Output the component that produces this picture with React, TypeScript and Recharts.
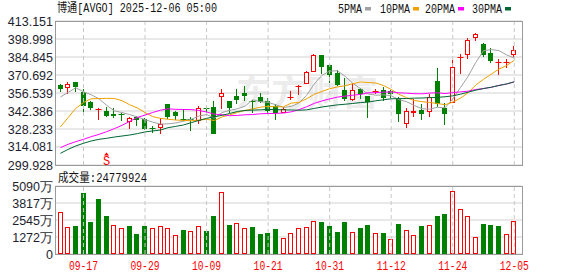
import React from 'react';
import {
  ComposedChart,
  Bar,
  Line,
  XAxis,
  YAxis,
  CartesianGrid,
  ReferenceLine,
  ReferenceDot,
  Legend,
} from 'recharts';

const DATES = [
  '09-12', '09-15', '09-16', '09-17', '09-18', '09-19', '09-22', '09-23', '09-24', '09-25',
  '09-26', '09-29', '09-30', '10-01', '10-02', '10-03', '10-06', '10-07', '10-08', '10-09',
  '10-10', '10-13', '10-14', '10-15', '10-16', '10-17', '10-20', '10-21', '10-22', '10-23',
  '10-24', '10-27', '10-28', '10-29', '10-30', '10-31', '11-03', '11-04', '11-05', '11-06',
  '11-07', '11-10', '11-11', '11-12', '11-13', '11-14', '11-17', '11-18', '11-19', '11-20',
  '11-21', '11-24', '11-25', '11-26', '11-28', '12-01', '12-02', '12-03', '12-04', '12-05',
];

const OPEN = [
  362.6, 360.2, 365.2, 357.3, 349.5, 343.6, 342.4, 340.3, 340.3, 334.0,
  337.4, 335.8, 329.3, 328.8, 347.6, 341.9, 335.8, 336.4, 334.5, 344.5,
  345.5, 353.4, 350.3, 354.2, 356.8, 350.0, 353.4, 350.3, 346.3, 341.1,
  352.6, 361.5, 363.4, 373.3, 386.2, 378.5, 372.5, 358.9, 351.0, 359.9,
  354.2, 357.9, 358.9, 358.1, 351.6, 331.9, 340.6, 343.2, 341.6, 366.0,
  344.5, 348.4, 384.3, 386.2, 400.0, 394.8, 388.2, 380.4, 380.4, 386.4,
];
const HIGH = [
  363.9, 365.2, 365.5, 359.9, 350.2, 345.0, 345.5, 344.5, 340.5, 337.7,
  338.7, 337.1, 330.6, 337.1, 348.0, 342.4, 343.7, 337.7, 346.3, 346.3,
  350.3, 359.4, 350.6, 359.4, 362.0, 350.8, 356.8, 352.9, 347.6, 345.5,
  358.1, 362.8, 373.8, 386.9, 386.5, 379.6, 374.4, 368.1, 364.7, 360.7,
  354.5, 359.4, 361.3, 358.6, 353.4, 345.0, 352.1, 347.6, 355.5, 375.9,
  349.0, 382.2, 387.5, 400.0, 404.0, 395.6, 391.6, 383.0, 383.5, 393.5,
];
const LOW = [
  357.1, 356.0, 357.0, 341.1, 342.9, 335.3, 337.9, 337.1, 334.5, 328.0,
  330.8, 327.4, 324.8, 324.6, 335.8, 335.1, 334.5, 326.7, 332.4, 341.1,
  324.1, 343.7, 341.1, 347.6, 350.3, 341.1, 348.4, 341.1, 335.3, 340.6,
  351.0, 355.0, 363.4, 373.3, 371.2, 364.7, 362.0, 350.3, 350.3, 351.6,
  337.1, 356.0, 350.3, 352.9, 334.0, 328.8, 337.9, 335.3, 337.9, 345.5,
  331.4, 348.4, 371.7, 383.0, 397.4, 384.8, 379.9, 370.7, 376.5, 385.1,
];
const CLOSE = [
  360.0, 363.9, 361.3, 346.3, 344.5, 344.0, 338.3, 338.8, 339.8, 336.6,
  335.0, 328.0, 328.8, 331.9, 337.9, 338.5, 335.0, 335.6, 345.0, 343.7,
  324.6, 356.8, 344.5, 351.0, 354.2, 349.7, 349.3, 342.4, 341.1, 343.7,
  353.6, 362.0, 373.0, 386.2, 377.2, 370.7, 362.8, 351.6, 358.9, 356.0,
  349.5, 358.1, 352.9, 355.5, 340.3, 342.0, 342.6, 340.3, 353.4, 348.2,
  340.3, 377.2, 384.8, 398.0, 402.7, 386.2, 381.7, 380.8, 381.2, 390.1,
];

const MA5 = [
  353.4, 357.0, 360.7, 357.5, 355.2, 352.0, 346.9, 342.5, 341.2, 339.6,
  337.7, 335.6, 333.6, 332.1, 332.3, 333.0, 334.4, 335.8, 338.4, 339.6,
  336.8, 341.1, 342.9, 344.1, 346.2, 351.2, 349.7, 349.2, 347.3, 345.2,
  346.0, 348.6, 354.7, 363.7, 370.4, 373.8, 374.0, 369.7, 364.2, 360.0,
  355.8, 354.8, 355.1, 354.4, 351.3, 349.7, 346.7, 344.2, 343.8, 345.3,
  344.9, 351.9, 360.8, 369.7, 380.6, 389.8, 390.7, 389.9, 386.5, 384.0,
];
const MA10 = [
  329.8, 337.2, 344.5, 349.0, 352.0, 352.2, 352.3, 352.3, 350.5, 347.3,
  344.8, 341.2, 338.0, 336.6, 335.9, 335.3, 335.0, 334.7, 335.2, 335.9,
  334.9, 337.7, 339.3, 341.2, 342.9, 344.0, 345.4, 346.0, 345.7, 345.7,
  348.6, 349.1, 352.0, 355.5, 357.8, 359.9, 361.3, 362.2, 363.9, 365.2,
  364.8, 364.4, 362.4, 359.3, 355.6, 352.8, 350.7, 349.7, 349.1, 348.3,
  347.3, 349.3, 352.5, 356.7, 362.9, 367.3, 371.3, 375.3, 378.1, 382.3,
];
const MA20 = [
  313.6, 316.2, 318.3, 320.1, 322.2, 324.0, 326.1, 328.5, 331.1, 334.2,
  337.3, 339.2, 341.2, 343.0, 344.1, 343.7, 343.6, 343.5, 342.8, 341.6,
  339.9, 339.5, 338.7, 338.9, 339.4, 339.6, 340.2, 340.4, 340.5, 340.8,
  341.7, 343.4, 345.7, 348.4, 350.3, 351.9, 353.3, 354.1, 354.8, 355.4,
  356.7, 356.8, 357.2, 357.4, 356.7, 356.4, 356.0, 355.9, 356.5, 356.7,
  356.1, 356.8, 357.4, 358.0, 359.3, 360.1, 361.0, 362.5, 363.6, 365.3,
];
const MA30 = [
  309.1, 312.2, 314.9, 317.0, 318.8, 320.1, 320.9, 321.9, 322.7, 323.5,
  324.6, 325.9, 326.7, 327.4, 329.3, 330.3, 331.4, 333.2, 335.0, 336.6,
  337.8, 339.0, 340.4, 342.0, 342.8, 343.1, 343.3, 343.6, 343.5, 343.3,
  343.2, 343.0, 343.3, 344.4, 345.5, 346.4, 347.2, 347.7, 348.3, 349.0,
  349.4, 350.4, 351.2, 352.0, 352.1, 352.2, 352.5, 352.6, 352.9, 353.1,
  353.6, 354.3, 355.6, 357.2, 358.8, 360.0, 361.1, 362.4, 363.7, 365.3,
];

// volume in 万 (10k shares)
const VOLUME = [
  3129, 2057, 2108, 4567, 2406, 4120, 2853, 2160, 1937, 2108,
  1512, 2108, 1937, 2086, 1937, 1416, 1810, 1713, 2086, 1736,
  2853, 4619, 2183, 2332, 1937, 2034, 1512, 1587, 1885, 1192,
  1565, 1937, 2011, 2459, 2406, 2108, 1661, 2406, 1639, 1959,
  2183, 1565, 1587, 1118, 2257, 1788, 1416, 2108, 2160, 2853,
  3002, 4694, 3353, 2831, 1266, 2257, 2183, 2108, 1512, 2478,
];

const PRICE_TICKS = [299.928, 314.081, 328.233, 342.386, 356.539, 370.692, 384.845, 398.998, 413.151];
const VOL_TICKS = [0, 1272.5, 2545, 3817.5, 5090];
const DATE_TICKS = ['09-17', '09-29', '10-09', '10-21', '10-31', '11-12', '11-24', '12-05'];
const TITLE = '博通[AVGO] 2025-12-06 05:00';
const VOLUME_LABEL = '成交量:24779924';
const WATERMARK = '东方财富';
const SIGNAL = { date: '09-22', price: 308.6, text: 'S' };

const LEGEND_ITEMS = [
  { name: '5PMA', color: '#a0a0a0' },
  { name: '10PMA', color: '#f0a000' },
  { name: '20PMA', color: '#ff00ff' },
  { name: '30PMA', color: '#006633' },
];

const RED = '#ff0000';
const GREEN = '#008000';
const MONO = "'Liberation Mono', 'Noto Sans CJK SC', monospace";
const SANS = "'Liberation Sans', Arial, sans-serif";

const data = DATES.map((date, i) => ({
  date,
  open: OPEN[i],
  high: HIGH[i],
  low: LOW[i],
  close: CLOSE[i],
  ma5: MA5[i],
  ma10: MA10[i],
  ma20: MA20[i],
  ma30: MA30[i],
  vol: VOLUME[i],
  volUp: i === 0 || CLOSE[i] >= CLOSE[i - 1],
}));

const Candle = (props: any) => {
  const { x, y, width, height, payload } = props;
  if (!payload || x == null) return null;
  const { open, close, high, low } = payload;
  const top0 = Math.min(y, y + height);
  const h = Math.abs(height);
  const range = high - low;
  const k = range > 0 ? h / range : 0;
  const yOf = (v: number) => top0 + (high - v) * k;
  const up = close >= open;
  const color = up ? RED : GREEN;
  const cx = Math.floor(x + width / 2) + 0.5;
  const yHigh = Math.round(yOf(high));
  const yLow = Math.round(yOf(low));
  const bTop = Math.round(yOf(Math.max(open, close)));
  const bBot = Math.round(yOf(Math.min(open, close)));
  const parts: any[] = [];
  if (bBot - bTop < 2) {
    parts.push(<line key="w" x1={cx} x2={cx} y1={yHigh} y2={yLow} stroke={color} strokeWidth={1} />);
    parts.push(<line key="d" x1={cx - 3} x2={cx + 3} y1={bTop + 0.5} y2={bTop + 0.5} stroke={color} strokeWidth={1} />);
  } else if (up) {
    parts.push(<line key="wu" x1={cx} x2={cx} y1={yHigh} y2={bTop} stroke={color} strokeWidth={1} />);
    parts.push(<line key="wd" x1={cx} x2={cx} y1={bBot} y2={yLow} stroke={color} strokeWidth={1} />);
    parts.push(
      <rect key="b" x={cx - 2} y={bTop + 0.5} width={4} height={bBot - bTop - 1} fill="#ffffff" stroke={color} strokeWidth={1} />
    );
  } else {
    parts.push(<line key="w" x1={cx} x2={cx} y1={yHigh} y2={yLow} stroke={color} strokeWidth={1} />);
    parts.push(<rect key="b" x={cx - 2.5} y={bTop} width={5} height={bBot - bTop} fill={color} />);
  }
  return <g>{parts}</g>;
};

const VolBar = (props: any) => {
  const { x, y, width, height, payload } = props;
  if (!payload || x == null) return null;
  const cx = Math.floor(x + width / 2) + 0.5;
  const top = Math.round(Math.min(y, y + height));
  const bot = Math.round(Math.max(y, y + height));
  if (payload.volUp) {
    return (
      <rect x={cx - 2} y={top + 0.5} width={4} height={Math.max(bot - top - 1, 0)} fill="#ffffff" stroke={RED} strokeWidth={1} />
    );
  }
  return <rect x={cx - 2.5} y={top} width={5} height={bot - top} fill={GREEN} />;
};

const PriceTick = (props: any) => {
  const { x, y, payload } = props;
  return (
    <text x={x} y={y} dy="0.36em" textAnchor="end" fontSize={12.5} fontFamily={SANS} fill="#1e1e30">
      {Number(payload.value).toFixed(3)}
    </text>
  );
};

const VolTick = (props: any) => {
  const { x, y, payload } = props;
  const v = Math.floor(Number(payload.value));
  return (
    <text x={x} y={y} dy="0.36em" textAnchor="end" fontSize={12.5} fontFamily={SANS} fill="#1e1e30">
      {v === 0 ? '0' : `${v}万`}
    </text>
  );
};

const DateTick = (props: any) => {
  const { x, y, payload } = props;
  return (
    <text x={x} y={y} dy={16} textAnchor="middle" fontSize={12} fontFamily={MONO} fill={RED} textLength={29} lengthAdjust="spacingAndGlyphs">
      {payload.value}
    </text>
  );
};

const SignalMark = (props: any) => {
  const { cx, cy } = props;
  const c = Math.floor(cx) + 0.5;
  return (
    <g>
      <polygon points={`${c - 2.5},${cy + 1.5} ${c + 2.5},${cy + 1.5} ${c},${cy - 1.5}`} fill={RED} />
      <text x={c} y={cy + 11.5} textAnchor="middle" fontSize={12} fontFamily={MONO} fill={RED}>
        {SIGNAL.text}
      </text>
    </g>
  );
};

const LEGEND_X = [338, 380, 425, 472];
const LegendContent = () => (
  <svg width={578} height={20} style={{ display: 'block' }}>
    {LEGEND_ITEMS.map((it, i) => {
      const w = it.name.length * 6;
      return (
        <g key={it.name}>
          <text x={LEGEND_X[i]} y={12.5} fontSize={12} fontFamily={MONO} fill="#111" textLength={w} lengthAdjust="spacingAndGlyphs">
            {it.name}
          </text>
          <rect x={LEGEND_X[i] + w + 3} y={7} width={6} height={3.5} fill={it.color} />
        </g>
      );
    })}
  </svg>
);

const XPAD = { left: 1.55, right: 3.85 };

export default function App() {
  return (
    <div style={{ position: 'absolute', left: 0, top: 0, width: 578, height: 276, background: '#ffffff', overflow: 'hidden' }}>
      <svg width={578} height={276} style={{ position: 'absolute', left: 0, top: 0 }}>
        <text x={236} y={106} fontSize={35} fontWeight={700} fontFamily="'Noto Sans CJK SC', sans-serif" fill="#ececec" textLength={142} lengthAdjust="spacingAndGlyphs">
          {WATERMARK}
        </text>
      </svg>
      <div style={{ position: 'absolute', left: 0, top: 0 }}>
        <ComposedChart width={578} height={178} data={data} margin={{ top: 21, right: 56, bottom: 13, left: 0 }}>
          <CartesianGrid vertical={false} stroke="#d2d2d2" />
          <XAxis dataKey="date" hide padding={XPAD} />
          <YAxis
            type="number"
            domain={[PRICE_TICKS[0], PRICE_TICKS[PRICE_TICKS.length - 1]]}
            ticks={PRICE_TICKS}
            interval={0}
            width={55}
            tickLine={false}
            axisLine={false}
            tickSize={2}
            tickMargin={0}
            tick={<PriceTick />}
            allowDataOverflow
          />
          {DATE_TICKS.map((d) => (
            <ReferenceLine key={d} x={d} stroke="#c8c8c8" strokeDasharray="4 3" />
          ))}
          <Bar dataKey={(d: any) => [d.low, d.high]} barSize={5} shape={<Candle />} isAnimationActive={false} />
          <Line type="linear" dataKey="ma5" stroke={LEGEND_ITEMS[0].color} strokeWidth={1} dot={false} activeDot={false} isAnimationActive={false} />
          <Line type="linear" dataKey="ma10" stroke={LEGEND_ITEMS[1].color} strokeWidth={1} dot={false} activeDot={false} isAnimationActive={false} />
          <Line type="linear" dataKey="ma20" stroke={LEGEND_ITEMS[2].color} strokeWidth={1} dot={false} activeDot={false} isAnimationActive={false} />
          <Line type="linear" dataKey="ma30" stroke={LEGEND_ITEMS[3].color} strokeWidth={1} dot={false} activeDot={false} isAnimationActive={false} />
          <ReferenceDot x={SIGNAL.date} y={SIGNAL.price} shape={<SignalMark />} />
          <Legend
            layout="horizontal"
            verticalAlign="middle"
            align="center"
            content={<LegendContent />}
            wrapperStyle={{ position: 'absolute', left: 0, top: 0, width: 578, height: 20 }}
          />
        </ComposedChart>
      </div>
      <div style={{ position: 'absolute', left: 0, top: 170 }}>
        <ComposedChart width={578} height={106} data={data} margin={{ top: 16, right: 56, bottom: 0, left: 0 }}>
          <CartesianGrid vertical={false} stroke="#d2d2d2" />
          <XAxis
            dataKey="date"
            ticks={DATE_TICKS}
            interval={0}
            height={22}
            tickLine={false}
            axisLine={false}
            tickSize={0}
            tickMargin={0}
            padding={XPAD}
            tick={<DateTick />}
          />
          <YAxis
            type="number"
            domain={[VOL_TICKS[0], VOL_TICKS[VOL_TICKS.length - 1]]}
            ticks={VOL_TICKS}
            interval={0}
            width={55}
            tickLine={false}
            axisLine={false}
            tickSize={2}
            tickMargin={0}
            tick={<VolTick />}
            allowDataOverflow
          />
          {DATE_TICKS.map((d) => (
            <ReferenceLine key={d} x={d} stroke="#c8c8c8" strokeDasharray="4 3" />
          ))}
          <Bar dataKey="vol" barSize={5} shape={<VolBar />} isAnimationActive={false} />
        </ComposedChart>
      </div>
      <svg width={578} height={276} style={{ position: 'absolute', left: 0, top: 0, pointerEvents: 'none' }}>
        <text x={57} y={12} fontSize={12} fontFamily={MONO} fill="#111" textLength={160} lengthAdjust="spacingAndGlyphs">
          {TITLE}
        </text>
        <text x={58} y={182} fontSize={12} fontFamily={MONO} fill="#111" textLength={89} lengthAdjust="spacingAndGlyphs">
          {VOLUME_LABEL}
        </text>
        <rect x={55.5} y={21.5} width={467} height={144} fill="none" stroke="#9a9a9a" strokeWidth={1} />
        <rect x={55.5} y={186.5} width={467} height={68} fill="none" stroke="#9a9a9a" strokeWidth={1} />
      </svg>
    </div>
  );
}
